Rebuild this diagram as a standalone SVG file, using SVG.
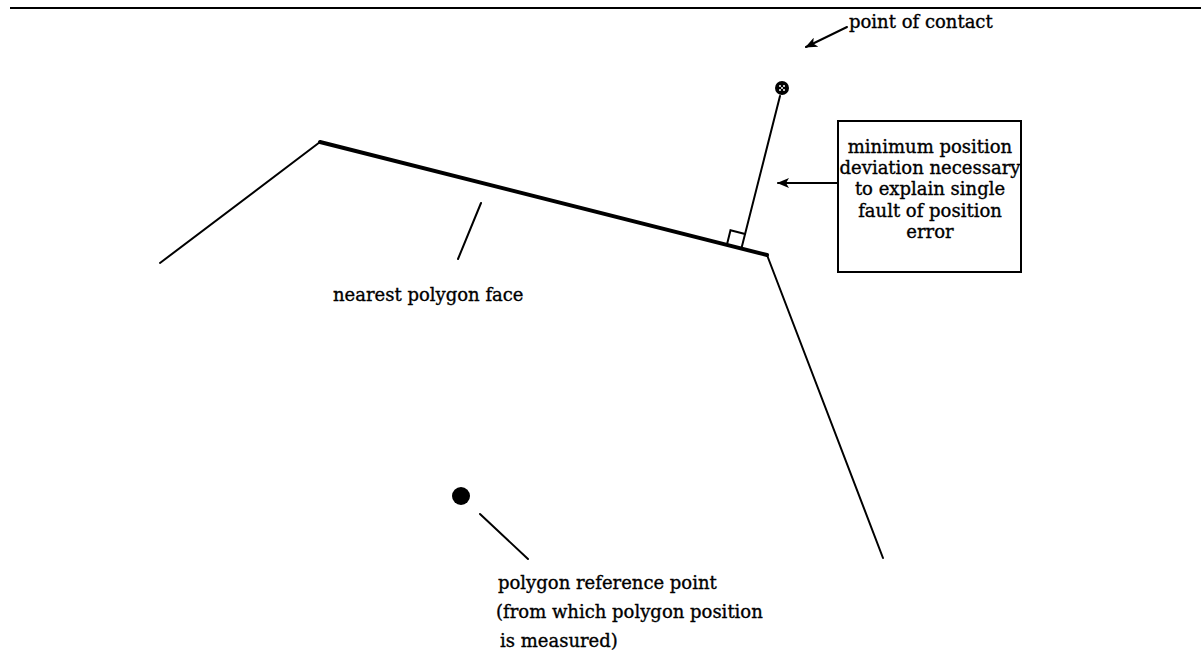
<svg xmlns="http://www.w3.org/2000/svg" width="1201" height="661" viewBox="0 0 1201 661">
<style>
.t{font-family:"DejaVu Serif","Liberation Serif",serif;font-size:18px;fill:#000;stroke:#000;stroke-width:0.35}
.ln{stroke:#000;stroke-width:2;fill:none;stroke-linecap:round}
</style>
<defs>
<marker id="ah" viewBox="0 0 12 10" refX="11" refY="5" markerWidth="12" markerHeight="10" markerUnits="userSpaceOnUse" orient="auto">
<path d="M0,0 L12,5 L0,10 L3,5 Z" fill="#000"/>
</marker>
</defs>
<rect width="1201" height="661" fill="#fff"/>
<line x1="10" y1="8" x2="1201" y2="8" stroke="#000" stroke-width="2"/>
<g id="polygon">
<path class="ln" d="M160,263 L320,142"/>
<path d="M320,142 L767,255" stroke="#000" stroke-width="4" fill="none" stroke-linecap="round"/>
<path class="ln" d="M767,255 L883,558"/>
</g>
<g id="contact">
<circle cx="782" cy="88" r="7" fill="#000"/>
<circle cx="780" cy="86" r="1" fill="#fff"/>
<circle cx="784" cy="86" r="1" fill="#fff"/>
<circle cx="780" cy="90" r="1" fill="#fff"/>
<circle cx="784" cy="90" r="1" fill="#fff"/>
<circle cx="782" cy="88" r="1" fill="#fff"/>
</g>
<g id="deviation">
<path class="ln" d="M780,96 L741.4,248.5"/>
<path class="ln" d="M741.4,248.5 L726.9,244.8 L730.5,230.3 L745.1,234"/>
</g>
<g id="reference">
<circle cx="461" cy="496" r="9" fill="#000"/>
</g>
<g id="box">
<rect x="838" y="121" width="183" height="151" fill="none" stroke="#000" stroke-width="2"/>
<text class="t" text-anchor="middle" x="930" y="153">minimum position</text>
<text class="t" text-anchor="middle" x="930" y="174">deviation necessary</text>
<text class="t" text-anchor="middle" x="930" y="195">to explain single</text>
<text class="t" text-anchor="middle" x="930" y="217">fault of position</text>
<text class="t" text-anchor="middle" x="930" y="238">error</text>
</g>
<g id="labels">
<text class="t" x="849" y="28">point of contact</text>
<text class="t" x="333" y="301">nearest polygon face</text>
<text class="t" x="498" y="589">polygon reference point</text>
<text class="t" x="496" y="618">(from which polygon position</text>
<text class="t" x="500" y="647">is measured)</text>
</g>
<g id="connectors">
<path class="ln" d="M847,27 L806,47" marker-end="url(#ah)"/>
<path class="ln" d="M838,183 L778,183" marker-end="url(#ah)"/>
<path class="ln" d="M481,203 L458,259"/>
<path class="ln" d="M480,514 L528,559"/>
</g>
</svg>
